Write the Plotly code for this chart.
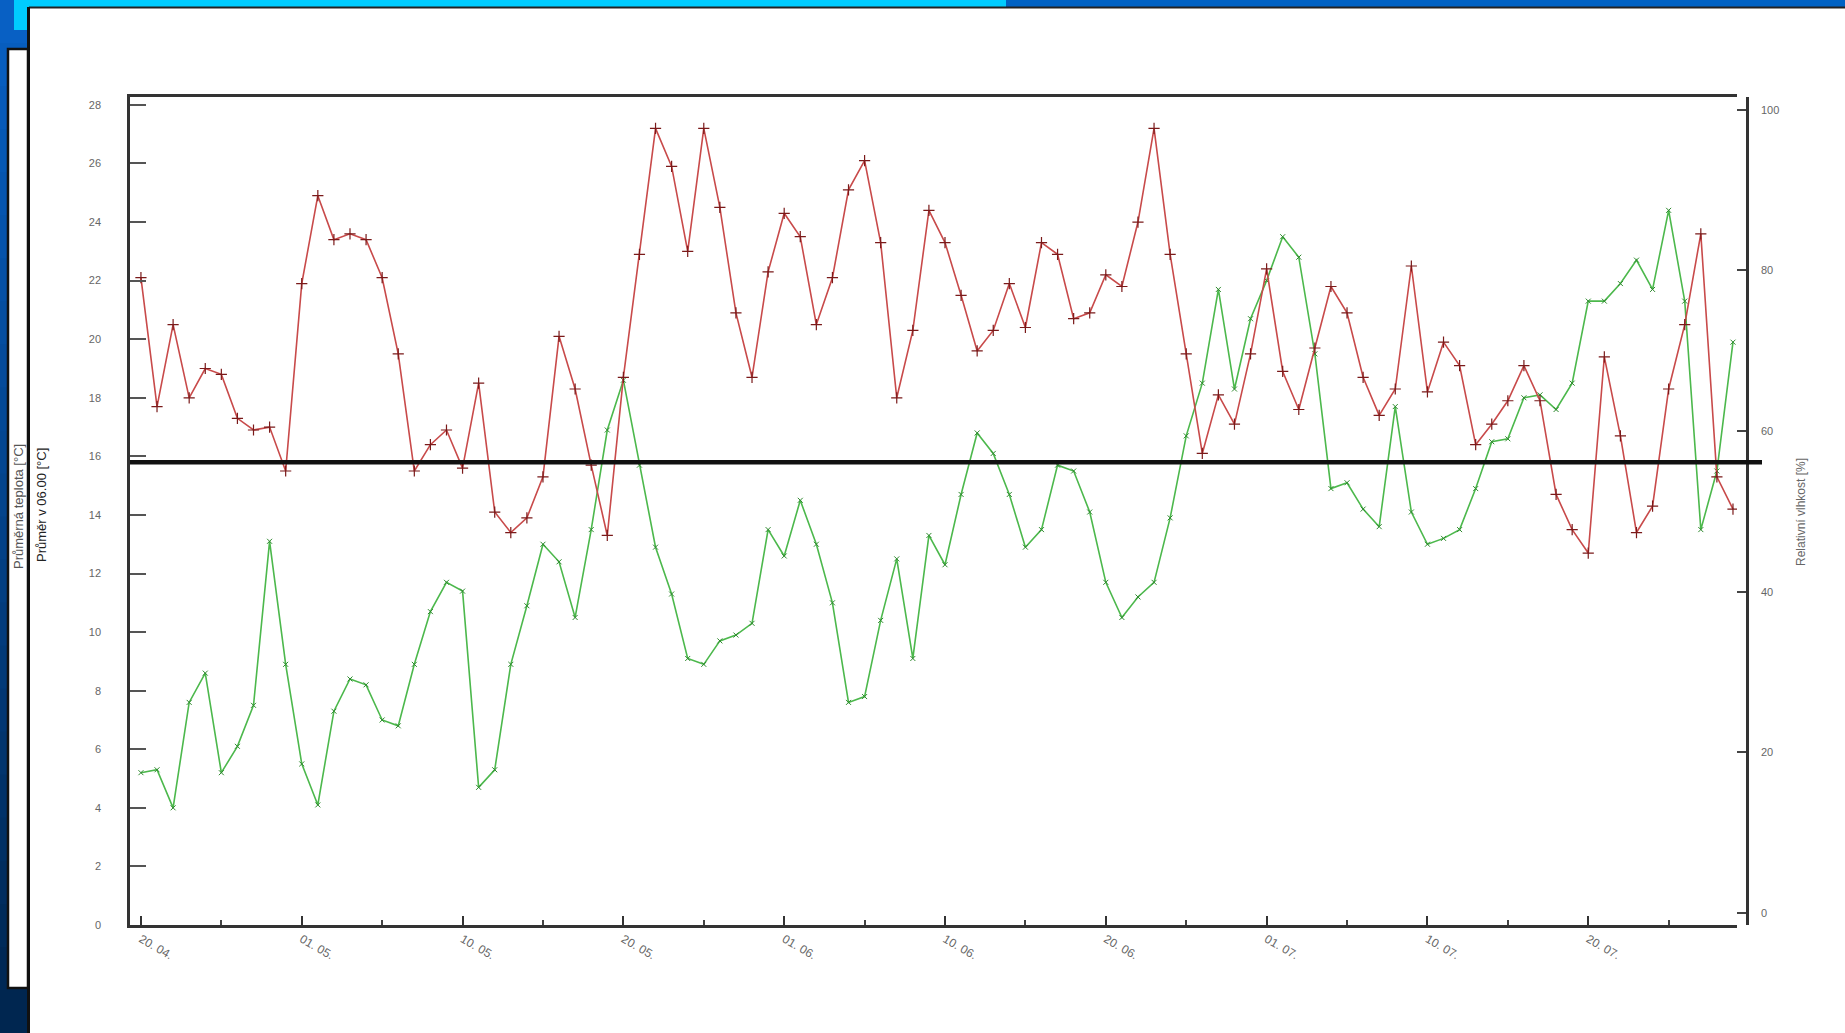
import plotly.graph_objects as go

# ---------------- data ----------------
days = list(range(100))

series_red = [22.1, 17.7, 20.5, 18.0, 19.0, 18.8, 17.3, 16.9, 17.0, 15.5,
              21.9, 24.9, 23.4, 23.6, 23.4, 22.1, 19.5, 15.5, 16.4, 16.9,
              15.6, 18.5, 14.1, 13.4, 13.9, 15.3, 20.1, 18.3, 15.7, 13.3,
              18.7, 22.9, 27.2, 25.9, 23.0, 27.2, 24.5, 20.9, 18.7, 22.3,
              24.3, 23.5, 20.5, 22.1, 25.1, 26.1, 23.3, 18.0, 20.3, 24.4,
              23.3, 21.5, 19.6, 20.3, 21.9, 20.4, 23.3, 22.9, 20.7, 20.9,
              22.2, 21.8, 24.0, 27.2, 22.9, 19.5, 16.1, 18.1, 17.1, 19.5,
              22.4, 18.9, 17.6, 19.7, 21.8, 20.9, 18.7, 17.4, 18.3, 22.5,
              18.2, 19.9, 19.1, 16.4, 17.1, 17.9, 19.1, 17.9, 14.7, 13.5,
              12.7, 19.4, 16.7, 13.4, 14.3, 18.3, 20.5, 23.6, 15.3, 14.2]

series_green = [5.2, 5.3, 4.0, 7.6, 8.6, 5.2, 6.1, 7.5, 13.1, 8.9,
                5.5, 4.1, 7.3, 8.4, 8.2, 7.0, 6.8, 8.9, 10.7, 11.7,
                11.4, 4.7, 5.3, 8.9, 10.9, 13.0, 12.4, 10.5, 13.5, 16.9,
                18.6, 15.7, 12.9, 11.3, 9.1, 8.9, 9.7, 9.9, 10.3, 13.5,
                12.6, 14.5, 13.0, 11.0, 7.6, 7.8, 10.4, 12.5, 9.1, 13.3,
                12.3, 14.7, 16.8, 16.1, 14.7, 12.9, 13.5, 15.7, 15.5, 14.1,
                11.7, 10.5, 11.2, 11.7, 13.9, 16.7, 18.5, 21.7, 18.3, 20.7,
                22.0, 23.5, 22.8, 19.5, 14.9, 15.1, 14.2, 13.6, 17.7, 14.1,
                13.0, 13.2, 13.5, 14.9, 16.5, 16.6, 18.0, 18.1, 17.6, 18.5,
                21.3, 21.3, 21.9, 22.7, 21.7, 24.4, 21.3, 13.5, 15.5, 19.9]

x_tick_vals = [0, 10, 20, 30, 40, 50, 60, 70, 80, 90]
x_tick_text = ["20. 04.", "01. 05.", "10. 05.", "20. 05.", "01. 06.",
               "10. 06.", "20. 06.", "01. 07.", "10. 07.", "20. 07."]
x_minor_vals = [5, 15, 25, 35, 45, 55, 65, 75, 85, 95]
y_left_ticks = list(range(0, 30, 2))
y_right_ticks = [0, 20, 40, 60, 80, 100]
ref_level = 15.8

title_left_1 = "Průměrná teplota [°C]"
title_left_2 = "Průměr v 06.00 [°C]"
title_right = "Relativní vlhkost [%]"

# ---------------- geometry helpers ----------------
W, H = 1845, 1033
PL, PXR, PYR, PT, PB = 130, 1737, 1747, 97, 925
pw = PYR - PL
ph = PB - PT


def px(x):
    return (x - PL) / pw


def py(y):
    return (PB - y) / ph


fig = go.Figure()

fig.add_trace(go.Scatter(
    x=days, y=series_green, mode="lines+markers",
    line=dict(color="#4cb84c", width=1.6),
    marker=dict(symbol="x-thin", size=5, color="#2f8a2f", line=dict(width=1, color="#2f8a2f")),
    yaxis="y", showlegend=False))

fig.add_trace(go.Scatter(
    x=days, y=series_red, mode="lines+markers",
    line=dict(color="#c84a4a", width=1.6),
    marker=dict(symbol="cross-thin", size=8, color="#7a1a1a", line=dict(width=1.2, color="#7a1a1a")),
    yaxis="y", showlegend=False))

# invisible trace for right axis
fig.add_trace(go.Scatter(x=[days[0]], y=[y_right_ticks[0]], mode="markers",
                         marker=dict(opacity=0), yaxis="y2", showlegend=False,
                         hoverinfo="skip"))

shapes = []
# left gradient strip
n = 24
c_top = (8, 96, 196)
c_bot = (0, 38, 80)
for i in range(n):
    t = i / (n - 1)
    c = tuple(int(c_top[k] + (c_bot[k] - c_top[k]) * t) for k in range(3))
    y0 = H * i / n
    y1 = H * (i + 1) / n + 1
    shapes.append(dict(type="rect", xref="paper", yref="paper", layer="below",
                       x0=px(0), x1=px(29), y0=py(y0), y1=py(y1),
                       fillcolor="rgb(%d,%d,%d)" % c, line=dict(width=0)))
# top bars
shapes.append(dict(type="rect", xref="paper", yref="paper", layer="below",
                   x0=px(29), x1=px(W), y0=py(0), y1=py(7),
                   fillcolor="#0062c4", line=dict(width=0)))
shapes.append(dict(type="rect", xref="paper", yref="paper", layer="below",
                   x0=px(14), x1=px(1006), y0=py(0), y1=py(7),
                   fillcolor="#00ccff", line=dict(width=0)))
shapes.append(dict(type="rect", xref="paper", yref="paper", layer="below",
                   x0=px(14), x1=px(29), y0=py(0), y1=py(30),
                   fillcolor="#00ccff", line=dict(width=0)))
# main white panel
shapes.append(dict(type="rect", xref="paper", yref="paper", layer="below",
                   x0=px(29), x1=px(W + 5), y0=py(7), y1=py(H + 5),
                   fillcolor="white", line=dict(width=0)))
shapes.append(dict(type="line", xref="paper", yref="paper", layer="below",
                   x0=px(29), x1=px(W), y0=py(7.5), y1=py(7.5),
                   line=dict(color="#222", width=2)))
shapes.append(dict(type="line", xref="paper", yref="paper", layer="below",
                   x0=px(28.5), x1=px(28.5), y0=py(7), y1=py(H),
                   line=dict(color="#111", width=3)))
# narrow white panel on the left
shapes.append(dict(type="rect", xref="paper", yref="paper", layer="below",
                   x0=px(8), x1=px(28), y0=py(49), y1=py(988),
                   fillcolor="white", line=dict(color="#111", width=2.5)))
# bold reference line
shapes.append(dict(type="line", xref="paper", yref="y",
                   x0=px(PL), x1=px(1762), y0=ref_level, y1=ref_level,
                   line=dict(color="#111", width=4.5)))

annotations = [
    dict(text=title_left_1, xref="paper", yref="paper", x=px(18), y=py(507),
         xanchor="center", yanchor="middle",
         textangle=-90, showarrow=False, font=dict(size=13, color="#555", family="Liberation Sans")),
    dict(text=title_left_2, xref="paper", yref="paper", x=px(41), y=py(505),
         xanchor="center", yanchor="middle",
         textangle=-90, showarrow=False, font=dict(size=13, color="#222", family="Liberation Sans")),
    dict(text=title_right, xref="paper", yref="paper", x=px(1801), y=py(512),
         xanchor="center", yanchor="middle",
         textangle=-90, showarrow=False, font=dict(size=12, color="#666", family="Liberation Sans")),
]

tickfont = dict(size=11, color="#666", family="Liberation Sans")

fig.update_layout(
    width=W, height=H,
    margin=dict(l=PL, r=W - PYR, t=PT, b=H - PB, pad=0),
    paper_bgcolor="white", plot_bgcolor="white",
    shapes=shapes, annotations=annotations,
    xaxis=dict(domain=[0, (PXR - PL) / pw], range=[-0.68, 99.25],
               tickmode="array", tickvals=x_tick_vals, ticktext=x_tick_text,
               ticks="inside", ticklen=9, tickwidth=2, tickcolor="#333",
               minor=dict(tickmode="array", tickvals=x_minor_vals, ticks="inside",
                          ticklen=5, tickwidth=1.5, tickcolor="#444"),
               tickangle=30, tickfont=dict(size=12, color="#666", family="Liberation Sans"),
               showline=True, linecolor="#333", linewidth=2.5, mirror=True,
               showgrid=False, zeroline=False),
    yaxis=dict(range=[0, 28.27], tickmode="array", tickvals=y_left_ticks,
               ticks="inside", ticklen=16, tickwidth=1.5, tickcolor="#555",
               tickfont=tickfont, ticklabelstandoff=24,
               showline=True, linecolor="#333", linewidth=2.5,
               showgrid=False, zeroline=False),
    yaxis2=dict(range=[-1.5, 101.6], overlaying="y", side="right", anchor="free",
                position=1, tickmode="array", tickvals=y_right_ticks,
                ticks="inside", ticklen=9, tickwidth=1.5, tickcolor="#444",
                tickfont=tickfont, ticklabelstandoff=10,
                showline=True, linecolor="#333", linewidth=2.5,
                showgrid=False, zeroline=False),
)

fig.write_html("out.html", config={"displayModeBar": False},
               post_script="document.body.style.margin='0';document.body.style.padding='0';")
